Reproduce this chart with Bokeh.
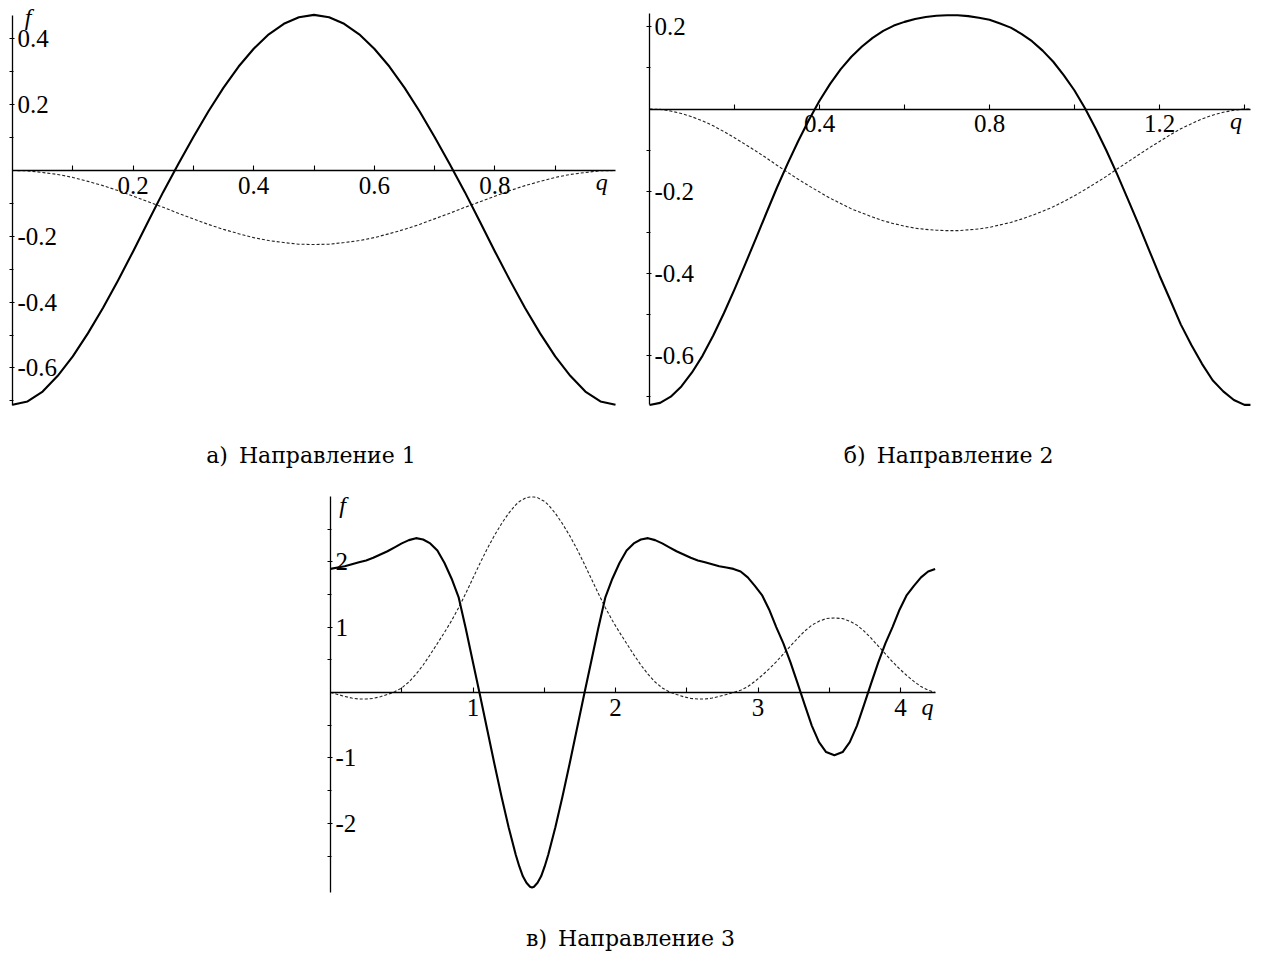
from bokeh.plotting import figure
from bokeh.models import Range1d, LinearAxis, FixedTicker, Label
from bokeh.embed import file_html
from bokeh.resources import INLINE

# ---------------- Direction 1 ----------------
q_dir1 = [0.000, 0.025, 0.050, 0.075, 0.100, 0.125, 0.150, 0.175, 0.200, 0.225,
          0.250, 0.275, 0.300, 0.325, 0.350, 0.375, 0.400, 0.425, 0.450, 0.475,
          0.500, 0.525, 0.550, 0.575, 0.600, 0.625, 0.650, 0.675, 0.700, 0.725,
          0.750, 0.775, 0.800, 0.825, 0.850, 0.875, 0.900, 0.925, 0.950, 0.975, 1.000]
f_dir1_solid = [-0.712, -0.702, -0.672, -0.624, -0.565, -0.495, -0.418, -0.334, -0.246, -0.155,
                -0.065, 0.020, 0.102, 0.180, 0.252, 0.316, 0.370, 0.414, 0.446, 0.466,
                0.473, 0.466, 0.446, 0.414, 0.370, 0.316, 0.252, 0.180, 0.102, 0.020,
                -0.065, -0.155, -0.246, -0.334, -0.418, -0.495, -0.565, -0.624, -0.672, -0.702, -0.712]
f_dir1_dash = [0.000, -0.001, -0.006, -0.012, -0.021, -0.033, -0.046, -0.061, -0.078, -0.095,
               -0.112, -0.130, -0.147, -0.164, -0.179, -0.192, -0.204, -0.213, -0.219, -0.224,
               -0.225, -0.224, -0.219, -0.213, -0.204, -0.192, -0.179, -0.164, -0.147, -0.130,
               -0.112, -0.095, -0.078, -0.061, -0.046, -0.033, -0.021, -0.012, -0.006, -0.001, 0.000]
x_ticks_dir1 = [0.2, 0.4, 0.6, 0.8]
x_labels_dir1 = ["0.2", "0.4", "0.6", "0.8"]
x_minor_dir1 = [0.1, 0.3, 0.5, 0.7, 0.9]
y_ticks_dir1 = [-0.6, -0.4, -0.2, 0.2, 0.4]
y_labels_dir1 = ["-0.6", "-0.4", "-0.2", "0.2", "0.4"]
y_minor_dir1 = [-0.7, -0.5, -0.3, -0.1, 0.1, 0.3]

# ---------------- Direction 2 ----------------
q_dir2 = [0.000, 0.025, 0.050, 0.075, 0.100, 0.125, 0.150, 0.175, 0.200, 0.225,
          0.250, 0.275, 0.300, 0.325, 0.350, 0.375, 0.400, 0.425, 0.450, 0.475,
          0.500, 0.525, 0.550, 0.575, 0.600, 0.625, 0.650, 0.675, 0.700, 0.725,
          0.750, 0.775, 0.800, 0.825, 0.850, 0.875, 0.900, 0.925, 0.950, 0.975,
          1.000, 1.025, 1.050, 1.075, 1.100, 1.125, 1.150, 1.175, 1.200, 1.225,
          1.250, 1.275, 1.300, 1.325, 1.350, 1.375, 1.400, 1.414]
f_dir2_solid = [-0.720, -0.715, -0.700, -0.675, -0.641, -0.600, -0.551, -0.497, -0.439, -0.378,
                -0.316, -0.253, -0.191, -0.133, -0.078, -0.027, 0.020, 0.061, 0.097, 0.127,
                0.152, 0.173, 0.190, 0.203, 0.212, 0.219, 0.224, 0.227, 0.228, 0.228,
                0.226, 0.222, 0.217, 0.208, 0.198, 0.183, 0.165, 0.142, 0.115, 0.082,
                0.045, 0.001, -0.048, -0.101, -0.158, -0.218, -0.279, -0.342, -0.405, -0.464,
                -0.524, -0.574, -0.620, -0.660, -0.687, -0.708, -0.720, -0.720]
f_dir2_dash = [0.000, -0.001, -0.005, -0.011, -0.019, -0.029, -0.041, -0.055, -0.070, -0.086,
               -0.102, -0.119, -0.137, -0.154, -0.171, -0.187, -0.202, -0.217, -0.230, -0.243,
               -0.253, -0.263, -0.272, -0.279, -0.285, -0.290, -0.293, -0.295, -0.296, -0.296,
               -0.294, -0.292, -0.288, -0.282, -0.276, -0.268, -0.259, -0.249, -0.238, -0.225,
               -0.211, -0.196, -0.180, -0.164, -0.146, -0.129, -0.112, -0.095, -0.079, -0.063,
               -0.048, -0.036, -0.024, -0.015, -0.008, -0.003, 0.000, 0.000]
x_ticks_dir2 = [0.4, 0.8, 1.2]
x_labels_dir2 = ["0.4", "0.8", "1.2"]
x_minor_dir2 = [0.2, 0.6, 1.0, 1.4]
y_ticks_dir2 = [-0.6, -0.4, -0.2, 0.2]
y_labels_dir2 = ["-0.6", "-0.4", "-0.2", "0.2"]
y_minor_dir2 = [-0.7, -0.5, -0.3, -0.1, 0.1]

# ---------------- Direction 3 ----------------
q_dir3 = [0.00, 0.05, 0.10, 0.15, 0.20, 0.25, 0.30, 0.35, 0.40, 0.45,
          0.50, 0.55, 0.60, 0.65, 0.70, 0.75, 0.80, 0.85, 0.90, 0.95,
          1.00, 1.05, 1.10, 1.15, 1.20, 1.25, 1.30, 1.325, 1.35, 1.375, 1.40, 1.414,
          1.428, 1.453, 1.478, 1.503, 1.528, 1.578, 1.628, 1.678, 1.728, 1.778, 1.828, 1.878,
          1.928, 1.978, 2.028, 2.078, 2.128, 2.178, 2.228, 2.278, 2.328, 2.378,
          2.428, 2.478, 2.528, 2.578, 2.628, 2.678, 2.728, 2.778, 2.828,
          2.878, 2.928, 2.978, 3.028, 3.078, 3.128, 3.178, 3.228, 3.278, 3.328,
          3.378, 3.428, 3.478, 3.536, 3.594, 3.644, 3.694, 3.744, 3.794, 3.844,
          3.894, 3.944, 3.994, 4.044, 4.094, 4.144, 4.194, 4.243]
f_dir3_solid = [1.89, 1.91, 1.93, 1.96, 1.99, 2.02, 2.06, 2.11, 2.16, 2.22,
                2.28, 2.33, 2.36, 2.34, 2.28, 2.17, 1.98, 1.74, 1.45, 0.97,
                0.46, -0.05, -0.57, -1.09, -1.59, -2.06, -2.48, -2.66, -2.81, -2.91, -2.97, -2.98,
                -2.97, -2.91, -2.81, -2.66, -2.48, -2.06, -1.59, -1.09, -0.57, -0.05, 0.46, 0.97,
                1.45, 1.74, 1.98, 2.17, 2.28, 2.34, 2.36, 2.33, 2.28, 2.22,
                2.16, 2.11, 2.06, 2.02, 1.99, 1.96, 1.93, 1.91, 1.89,
                1.85, 1.76, 1.63, 1.49, 1.27, 1.00, 0.75, 0.46, 0.14, -0.19,
                -0.51, -0.76, -0.91, -0.96, -0.91, -0.76, -0.51, -0.19, 0.14, 0.46,
                0.75, 1.00, 1.27, 1.49, 1.63, 1.76, 1.85, 1.89]
f_dir3_dash = [0.00, -0.03, -0.06, -0.085, -0.10, -0.10, -0.09, -0.065, -0.03, 0.01,
               0.07, 0.16, 0.28, 0.42, 0.58, 0.75, 0.92, 1.10, 1.30, 1.52,
               1.75, 1.98, 2.20, 2.40, 2.58, 2.74, 2.87, 2.92, 2.95, 2.98, 2.99, 2.99,
               2.99, 2.98, 2.95, 2.92, 2.87, 2.74, 2.58, 2.40, 2.20, 1.98, 1.75, 1.52,
               1.30, 1.10, 0.92, 0.75, 0.58, 0.42, 0.28, 0.16, 0.07, 0.01,
               -0.03, -0.065, -0.09, -0.10, -0.10, -0.085, -0.06, -0.03, 0.00,
               0.035, 0.09, 0.17, 0.26, 0.36, 0.47, 0.59, 0.71, 0.83, 0.94,
               1.03, 1.09, 1.13, 1.14, 1.13, 1.09, 1.03, 0.94, 0.83, 0.71,
               0.59, 0.47, 0.36, 0.26, 0.17, 0.09, 0.035, 0.00]
x_ticks_dir3 = [1, 2, 3, 4]
x_labels_dir3 = ["1", "2", "3", "4"]
x_minor_dir3 = [0.5, 1.5, 2.5, 3.5]
y_ticks_dir3 = [-2, -1, 1, 2]
y_labels_dir3 = ["-2", "-1", "1", "2"]
y_minor_dir3 = [-2.5, -1.5, -0.5, 0.5, 1.5, 2.5]

captions = ["а)\u2002Направление 1", "б)\u2002Направление 2", "в)\u2002Направление 3"]

# ---------------- page geometry ----------------
W, H = 1275, 953


def x_span(origin_px, px_per_unit):
    return Range1d(-origin_px / px_per_unit, (W - origin_px) / px_per_unit)


def y_span(origin_px, px_per_unit):
    return Range1d(-(H - origin_px) / px_per_unit, origin_px / px_per_unit)


p = figure(width=W, height=H, output_backend="svg", toolbar_location=None,
           x_axis_type=None, y_axis_type=None,
           x_range=x_span(12, 603), y_range=y_span(170, 329),
           min_border=0, min_border_left=0, min_border_right=0,
           min_border_top=0, min_border_bottom=0)
p.outline_line_color = None
p.background_fill_color = "white"
p.border_fill_color = "white"

p.extra_x_ranges = {"b_x": x_span(649, 425), "c_x": x_span(330, 142.5)}
p.extra_y_ranges = {"b_y": y_span(108.5, 411), "c_y": y_span(692, 65.4)}

TICK_FONT = "Liberation Serif"


def add_axes(xr, yr, xbounds, ybounds, xt, xl, xm, yt, yl, ym):
    xa = LinearAxis(x_range_name=xr, y_range_name=yr, fixed_location=0, bounds=xbounds,
                    ticker=FixedTicker(ticks=xt, minor_ticks=xm),
                    major_label_overrides={t: s for t, s in zip(xt, xl)})
    xa.major_tick_in = 5
    xa.major_tick_out = 0
    xa.minor_tick_in = 5
    xa.minor_tick_out = 0
    xa.major_label_standoff = 6
    ya = LinearAxis(x_range_name=xr, y_range_name=yr, fixed_location=0, bounds=ybounds,
                    ticker=FixedTicker(ticks=yt, minor_ticks=ym),
                    major_label_overrides={t: s for t, s in zip(yt, yl)})
    ya.major_tick_in = 3
    ya.major_tick_out = 2
    ya.minor_tick_in = 3
    ya.minor_tick_out = 1
    ya.major_label_standoff = 3
    for ax in (xa, ya):
        ax.axis_line_color = "black"
        ax.axis_line_width = 1.3
        ax.major_tick_line_color = "black"
        ax.minor_tick_line_color = "black"
        ax.major_tick_line_width = 1.1
        ax.minor_tick_line_width = 1.1
        ax.major_label_text_font = TICK_FONT
        ax.major_label_text_font_size = "25px"
        ax.major_label_text_color = "black"
    p.add_layout(xa, "below")
    p.add_layout(ya, "right")


add_axes("default", "default", (0, 1.0), (-0.715, 0.472),
         x_ticks_dir1, x_labels_dir1, x_minor_dir1, y_ticks_dir1, y_labels_dir1, y_minor_dir1)
add_axes("b_x", "b_y", (0, 1.414), (-0.72, 0.232),
         x_ticks_dir2, x_labels_dir2, x_minor_dir2, y_ticks_dir2, y_labels_dir2, y_minor_dir2)
add_axes("c_x", "c_y", (0, 4.243), (-3.06, 3.0),
         x_ticks_dir3, x_labels_dir3, x_minor_dir3, y_ticks_dir3, y_labels_dir3, y_minor_dir3)

# curves
series = [
    ("default", "default", q_dir1, f_dir1_solid, f_dir1_dash),
    ("b_x", "b_y", q_dir2, f_dir2_solid, f_dir2_dash),
    ("c_x", "c_y", q_dir3, f_dir3_solid, f_dir3_dash),
]
for xr, yr, q, fs, fd in series:
    p.line(q, fd, x_range_name=xr, y_range_name=yr, line_color="#222222",
           line_width=1.1, line_dash="3 2")
    p.line(q, fs, x_range_name=xr, y_range_name=yr, line_color="black",
           line_width=2.1, line_join="round")

# axis names
axis_names = [
    ("f", "default", "default", 0.026, 0.468),
    ("q", "default", "default", 0.977, -0.035),
    ("q", "b_x", "b_y", 1.380, -0.030),
    ("f", "c_x", "c_y", 0.085, 2.86),
    ("q", "c_x", "c_y", 4.19, -0.22),
]
for txt, xr, yr, x, y in axis_names:
    p.add_layout(Label(x=x, y=y, x_range_name=xr, y_range_name=yr, text=txt,
                       text_font=TICK_FONT, text_font_style="italic",
                       text_font_size="24px", text_align="center",
                       text_baseline="middle", text_color="black"))

# panel captions
caption_pos = [("default", "default", 0.495, -0.866),
               ("b_x", "b_y", 0.704, -0.843),
               ("c_x", "c_y", 2.105, -3.761)]
for txt, (xr, yr, x, y) in zip(captions, caption_pos):
    p.add_layout(Label(x=x, y=y, x_range_name=xr, y_range_name=yr, text=txt,
                       text_font="DejaVu Serif", text_font_size="22px",
                       text_align="center", text_baseline="middle",
                       text_color="black"))

open("out.html", "w").write(file_html(p, INLINE))
